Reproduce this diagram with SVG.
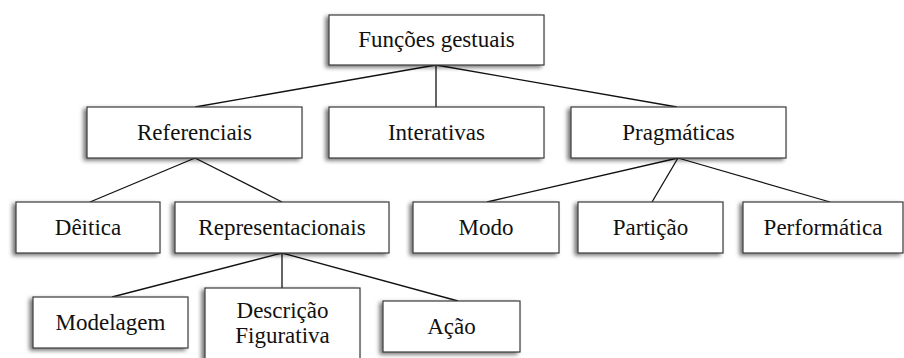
<svg xmlns="http://www.w3.org/2000/svg" width="904" height="358" viewBox="0 0 904 358">
<defs>
<filter id="sh" x="-10%" y="-20%" width="120%" height="150%">
<feDropShadow dx="-3" dy="2" stdDeviation="2" flood-color="#000" flood-opacity="0.55"/>
</filter>
</defs>
<style>
.box{fill:#fff;stroke:#3a3a3a;stroke-width:1.2;filter:url(#sh)}
.lbl{font-family:'Liberation Serif','DejaVu Serif',Tinos,serif;font-size:23px;fill:#111;text-anchor:middle}
.ln{stroke:#111;stroke-width:1.3;fill:none}
</style>
<rect width="904" height="358" fill="#fff"/>
<g id="connectors">
<line class="ln" x1="436" y1="65" x2="195" y2="107"/>
<line class="ln" x1="436" y1="65" x2="436" y2="107"/>
<line class="ln" x1="436" y1="65" x2="677" y2="107"/>
<line class="ln" x1="195" y1="158" x2="90" y2="202"/>
<line class="ln" x1="195" y1="158" x2="282" y2="202"/>
<line class="ln" x1="678" y1="158" x2="487" y2="202"/>
<line class="ln" x1="678" y1="158" x2="652" y2="202"/>
<line class="ln" x1="678" y1="158" x2="830" y2="202"/>
<line class="ln" x1="282" y1="253" x2="112" y2="297"/>
<line class="ln" x1="282" y1="253" x2="282" y2="288"/>
<line class="ln" x1="282" y1="253" x2="458" y2="301"/>
</g>
<g id="funcoes"><rect class="box" x="329" y="15" width="215" height="50"/><text class="lbl" x="436.5" y="47">Funções gestuais</text></g>
<g id="referenciais"><rect class="box" x="87" y="107" width="215" height="51"/><text class="lbl" x="194.5" y="140">Referenciais</text></g>
<g id="interativas"><rect class="box" x="329" y="107" width="215" height="51"/><text class="lbl" x="436.5" y="140">Interativas</text></g>
<g id="pragmaticas"><rect class="box" x="571" y="107" width="215" height="51"/><text class="lbl" x="678.5" y="140">Pragmáticas</text></g>
<g id="deitica"><rect class="box" x="16" y="202" width="144" height="51"/><text class="lbl" x="88" y="235">Dêitica</text></g>
<g id="representacionais"><rect class="box" x="175" y="202" width="214" height="51"/><text class="lbl" x="282" y="235">Representacionais</text></g>
<g id="modo"><rect class="box" x="413" y="202" width="146" height="51"/><text class="lbl" x="486" y="235">Modo</text></g>
<g id="particao"><rect class="box" x="578" y="202" width="145" height="51"/><text class="lbl" x="650.5" y="235">Partição</text></g>
<g id="performatica"><rect class="box" x="743" y="202" width="160" height="51"/><text class="lbl" x="823" y="235">Performática</text></g>
<g id="modelagem"><rect class="box" x="33" y="297" width="155" height="51"/><text class="lbl" x="110.5" y="330">Modelagem</text></g>
<g id="descricao"><rect class="box" x="205" y="288" width="155" height="80"/><text class="lbl" x="282.5" y="318">Descrição</text><text class="lbl" x="282.5" y="343">Figurativa</text></g>
<g id="acao"><rect class="box" x="383" y="301" width="137" height="51"/><text class="lbl" x="451.5" y="334">Ação</text></g>
</svg>
